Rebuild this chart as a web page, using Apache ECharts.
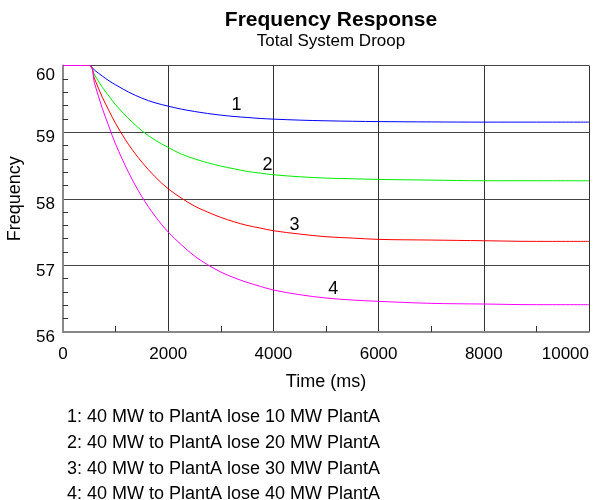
<!DOCTYPE html>
<html>
<head>
<meta charset="utf-8">
<script src="https://cdn.jsdelivr.net/npm/echarts@6/dist/echarts.min.js"></script>
<style>html,body{margin:0;padding:0;background:#fff}#c{width:601px;height:500px}</style>
</head>
<body>
<div id="c"></div>
<script>
// ---- data ----
var times = [0, 500, 600, 750, 875, 1000, 1250, 1500, 1750, 2000, 2250, 2500, 2750, 3000, 3250, 3500, 3750, 4000, 4500, 5000, 5500, 6000, 7000, 8000, 9000, 10000];
var seriesNames = [
  '40 MW to PlantA lose 10 MW PlantA',
  '40 MW to PlantA lose 20 MW PlantA',
  '40 MW to PlantA lose 30 MW PlantA',
  '40 MW to PlantA lose 40 MW PlantA'
];
var freq1 = [60, 60, 59.93, 59.84, 59.77, 59.71, 59.60, 59.51, 59.44, 59.39, 59.345, 59.31, 59.28, 59.255, 59.235, 59.22, 59.205, 59.195, 59.18, 59.17, 59.163, 59.158, 59.153, 59.15, 59.15, 59.15];
var freq2 = [60, 60, 59.86, 59.67, 59.54, 59.41, 59.20, 59.02, 58.88, 58.77, 58.67, 58.60, 58.54, 58.49, 58.45, 58.41, 58.385, 58.36, 58.33, 58.31, 58.30, 58.29, 58.28, 58.27, 58.27, 58.27];
var freq3 = [60, 60, 59.80, 59.52, 59.32, 59.13, 58.81, 58.55, 58.33, 58.15, 58.01, 57.89, 57.80, 57.72, 57.655, 57.60, 57.56, 57.52, 57.47, 57.43, 57.41, 57.39, 57.38, 57.37, 57.36, 57.36];
var freq4 = [60, 60, 59.73, 59.35, 59.08, 58.82, 58.39, 58.03, 57.74, 57.50, 57.31, 57.14, 57.01, 56.90, 56.815, 56.745, 56.685, 56.63, 56.56, 56.51, 56.48, 56.46, 56.43, 56.42, 56.41, 56.41];
var curveLabels = ['1', '2', '3', '4'];
var curveLabelAt = [[3300, 59.40], [3890, 58.50], [4400, 57.60], [5140, 56.64]];
var xTicks = [0, 2000, 4000, 6000, 8000, 10000];
var yTicks = [56, 57, 58, 59, 60];

var colors = ['#0000ff', '#00ee00', '#ff0000', '#ff00ff'];
var allFreq = [freq1, freq2, freq3, freq4];
var FONT = 'Liberation Sans, Arial, sans-serif';

var series = allFreq.map(function (arr, i) {
  return {
    name: seriesNames[i],
    type: 'line',
    data: times.map(function (t, k) { return [t, arr[k]]; }),
    smooth: 0.35,
    clip: false,
    showSymbol: false,
    symbol: 'none',
    lineStyle: { color: colors[i], width: 1 },
    itemStyle: { color: colors[i] },
    z: 3 + i,
    markPoint: {
      symbol: 'circle',
      symbolSize: 1,
      itemStyle: { color: 'rgba(0,0,0,0)' },
      label: { show: true, position: 'inside', color: '#000', fontSize: 18, fontFamily: FONT, formatter: curveLabels[i] },
      data: [{ coord: curveLabelAt[i], value: curveLabels[i] }]
    }
  };
});

var legendTexts = seriesNames.map(function (name, i) {
  return {
    type: 'text',
    left: 67,
    top: 408 + i * 25.8,
    style: { text: (i + 1) + ': ' + name, fill: '#000', font: '18px ' + FONT }
  };
});

var chart = echarts.init(document.getElementById('c'), null, { renderer: 'canvas' });
chart.setOption({
  animation: false,
  backgroundColor: '#ffffff',
  title: {
    text: 'Frequency Response',
    subtext: 'Total System Droop',
    left: 326,
    textAlign: 'center',
    top: 5,
    itemGap: 2,
    textStyle: { fontFamily: FONT, fontWeight: 'bold', fontSize: 21, color: '#000' },
    subtextStyle: { fontFamily: FONT, fontSize: 17, color: '#000' }
  },
  graphic: legendTexts,
  grid: { left: 63, right: 12, top: 65.5, bottom: 168, containLabel: false, outerBoundsMode: 'none' },
  xAxis: {
    type: 'value',
    min: xTicks[0],
    max: xTicks[xTicks.length - 1],
    interval: 2000,
    name: 'Time (ms)',
    nameLocation: 'middle',
    nameGap: 41,
    nameTextStyle: { fontFamily: FONT, fontSize: 18, color: '#000' },
    axisLine: { show: true, lineStyle: { color: '#888', width: 2 } },
    axisTick: { show: false, inside: true },
    minorTick: { show: true, splitNumber: 2, length: 6, lineStyle: { color: '#333' } },
    axisLabel: {
      fontFamily: FONT, fontSize: 17, color: '#000', margin: 14,
      alignMinLabel: 'center', alignMaxLabel: 'right',
      formatter: function (v) { return String(v); }
    },
    splitLine: { show: true, lineStyle: { color: '#333', width: 1 } },
    minorSplitLine: { show: false }
  },
  yAxis: {
    type: 'value',
    min: yTicks[0],
    max: yTicks[yTicks.length - 1],
    interval: 1,
    name: 'Frequency',
    nameLocation: 'middle',
    nameGap: 39,
    nameRotate: 90,
    nameTextStyle: { fontFamily: FONT, fontSize: 18, color: '#000' },
    axisLine: { show: true, lineStyle: { color: '#888', width: 2 } },
    axisTick: { show: false, inside: true },
    minorTick: { show: true, splitNumber: 5, length: 5, lineStyle: { color: '#333' } },
    axisLabel: {
      fontFamily: FONT, fontSize: 17, color: '#000', margin: 8,
      formatter: function (v) { return v === 60 ? '{t|' + v + '}' : '{n|' + v + '}'; },
      rich: {
        n: { fontFamily: FONT, fontSize: 17, color: '#000', padding: [11, 0, 0, 0] },
        t: { fontFamily: FONT, fontSize: 17, color: '#000', padding: [20, 0, 0, 0] }
      }
    },
    splitLine: { show: true, lineStyle: { color: '#444', width: 1 } }
  },
  series: series
});
</script>
</body>
</html>
